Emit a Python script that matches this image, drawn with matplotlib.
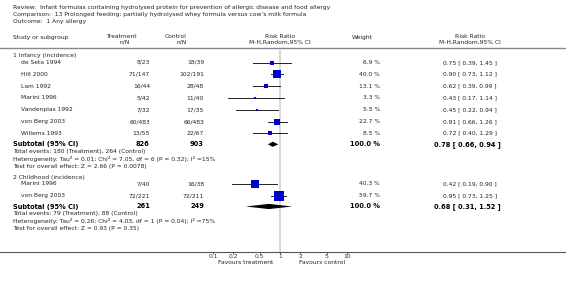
import matplotlib
matplotlib.use("Agg")
from matplotlib import pyplot as plt
import numpy as np

# group 1: infancy
studies1 = ['de Seta 1994', 'Hill 2000', 'Lam 1992', 'Marini 1996', 'Vandenplas 1992', 'von Berg 2003', 'Willems 1993']
treat1 = ['8/23', '71/147', '16/44', '5/42', '7/32', '60/483', '13/55']
ctrl1 = ['18/39', '102/191', '28/48', '11/40', '17/35', '66/483', '22/67']
w1 = [6.9, 40.0, 13.1, 3.3, 5.5, 22.7, 8.5]
rr1 = [0.75, 0.90, 0.62, 0.43, 0.45, 0.91, 0.72]
lo1 = [0.39, 0.73, 0.39, 0.17, 0.22, 0.66, 0.40]
hi1 = [1.45, 1.12, 0.99, 1.14, 0.94, 1.26, 1.29]
sub1 = ['826', '903', 0.78, 0.66, 0.94]
notes1 = ['Total events: 180 (Treatment), 264 (Control)',
          'Heterogeneity: Tau\u00b2 = 0.01; Chi\u00b2 = 7.05, df = 6 (P = 0.32); I\u00b2 =15%',
          'Test for overall effect: Z = 2.66 (P = 0.0078)']

# group 2: childhood
studies2 = ['Marini 1996', 'von Berg 2003']
treat2 = ['7/40', '72/221']
ctrl2 = ['16/38', '72/211']
w2 = [40.3, 59.7]
rr2 = [0.42, 0.95]
lo2 = [0.19, 0.73]
hi2 = [0.90, 1.25]
sub2 = ['261', '249', 0.68, 0.31, 1.52]
notes2 = ['Total events: 79 (Treatment), 88 (Control)',
          'Heterogeneity: Tau\u00b2 = 0.26; Chi\u00b2 = 4.03, df = 1 (P = 0.04); I\u00b2 =75%',
          'Test for overall effect: Z = 0.93 (P = 0.35)']

ticks = [0.1, 0.2, 0.5, 1, 2, 5, 10]
tick_labels = ['0.1', '0.2', '0.5', '1', '2', '5', '10']

W, H = 566, 281
fig = plt.figure(figsize=(W / 100, H / 100), dpi=100)
bg = fig.add_axes([0, 0, 1, 1])
bg.set_xlim(0, W)
bg.set_ylim(H, 0)
bg.axis('off')

# forest panel, log scale, rows in the same vertical units as bg
y_top, y_bot = 50, 251.5
fx0, fx1 = 213, 347
fp = fig.add_axes([fx0 / W, (H - y_bot) / H, (fx1 - fx0) / W, (y_bot - y_top) / H])
fp.set_xscale('log')
fp.set_xlim(0.1, 10)
fp.set_ylim(y_bot, y_top)
for s in ['top', 'right', 'left', 'bottom']:
    fp.spines[s].set_visible(False)
fp.set_yticks([])
fp.set_xticks(ticks)
fp.set_xticklabels(tick_labels)
fp.minorticks_off()
fp.tick_params(axis='x', length=1.5, width=0.5, pad=0.5, labelsize=4.3, colors='#333333')
fp.patch.set_alpha(0)
fp.axvline(1, color='#d0d0d0', lw=1.2, zorder=0)

fs = 4.3
tc = '#222222'
bold = dict(fontsize=4.8, fontweight='bold', color='black')

# header
bg.text(13, 8, 'Review:  Infant formulas containing hydrolysed protein for prevention of allergic disease and food allergy', fontsize=fs, color=tc, va='center')
bg.text(13, 14.5, 'Comparison:  13 Prolonged feeding: partially hydrolysed whey formula versus cow\u2019s milk formula', fontsize=fs, color=tc, va='center')
bg.text(13, 21, 'Outcome:  1 Any allergy', fontsize=fs, color=tc, va='center')
bg.text(13, 37, 'Study or subgroup', fontsize=fs, color=tc, va='center')
bg.text(121, 36, 'Treatment', fontsize=fs, color=tc, va='center', ha='center')
bg.text(130, 42, 'n/N', fontsize=fs, color=tc, va='center', ha='right')
bg.text(176, 36, 'Control', fontsize=fs, color=tc, va='center', ha='center')
bg.text(187, 42, 'n/N', fontsize=fs, color=tc, va='center', ha='right')
bg.text(280, 36, 'Risk Ratio', fontsize=fs, color=tc, va='center', ha='center')
bg.text(280, 42, 'M-H,Random,95% CI', fontsize=fs, color=tc, va='center', ha='center')
bg.text(362, 37, 'Weight', fontsize=fs, color=tc, va='center', ha='center')
bg.text(470, 36, 'Risk Ratio', fontsize=fs, color=tc, va='center', ha='center')
bg.text(470, 42, 'M-H,Random,95% CI', fontsize=fs, color=tc, va='center', ha='center')
bg.plot([0, W], [47.5, 47.5], color='#888888', lw=1.0)
bg.plot([0, W], [y_bot, y_bot], color='#555555', lw=0.8)
bg.text(246, 262, 'Favours treatment', fontsize=fs, color=tc, va='center', ha='center')
bg.text(299, 262, 'Favours control', fontsize=fs, color=tc, va='center', ha='left')


def draw_group(title, y0, studies, treat, ctrl, w, rr, lo, hi, sub, notes, step):
    bg.text(13, y0, title, fontsize=fs, color=tc, va='center')
    ys = [y0 + 6.5 + i * step for i in range(len(studies))]
    for i, y in enumerate(ys):
        bg.text(21, y, studies[i], fontsize=fs, color=tc, va='center')
        bg.text(150, y, treat[i], fontsize=fs, color=tc, va='center', ha='right')
        bg.text(204, y, ctrl[i], fontsize=fs, color=tc, va='center', ha='right')
        bg.text(380, y, '%.1f %%' % w[i], fontsize=fs, color=tc, va='center', ha='right')
        bg.text(443, y, '%.2f [ %.2f, %.2f ]' % (rr[i], lo[i], hi[i]), fontsize=fs, color=tc, va='center', ha='left')
        fp.plot([lo[i], hi[i]], [y, y], color='#222222', lw=0.7, clip_on=False)
        side = 1.27 * np.sqrt(w[i]) * 0.72
        fp.plot([rr[i]], [y], marker='s', ms=side, color='#0000c8', mew=0, clip_on=False)
    ys_sub = ys[-1] + 11
    bg.text(13, ys_sub, 'Subtotal (95% CI)', va='center', **bold)
    bg.text(150, ys_sub, sub[0], va='center', ha='right', **bold)
    bg.text(204, ys_sub, sub[1], va='center', ha='right', **bold)
    bg.text(380, ys_sub, '100.0 %', va='center', ha='right', **bold)
    bg.text(434, ys_sub, '%.2f [ %.2f, %.2f ]' % (sub[2], sub[3], sub[4]), va='center', ha='left', **bold)
    h = 2.6
    fp.fill([sub[3], sub[2], sub[4], sub[2]], [ys_sub, ys_sub - h, ys_sub, ys_sub + h], color='black', lw=0, clip_on=False)
    for k, line in enumerate(notes):
        bg.text(13, ys_sub + 7 + k * 7.5, line, fontsize=fs, color=tc, va='center')


draw_group('1 Infancy (incidence)', 56, studies1, treat1, ctrl1, w1, rr1, lo1, hi1, sub1, notes1, 11.8)
draw_group('2 Childhood (incidence)', 177, studies2, treat2, ctrl2, w2, rr2, lo2, hi2, sub2, notes2, 12)

fig.savefig('out.png', dpi=100)
